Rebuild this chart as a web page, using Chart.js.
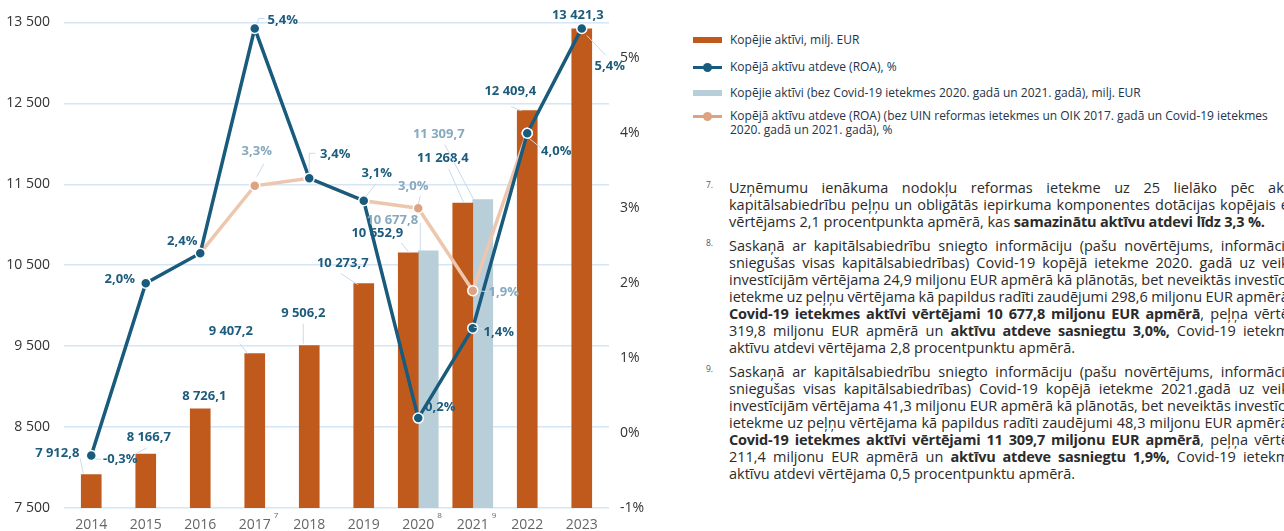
<!DOCTYPE html>
<html lang="lv">
<head>
<meta charset="utf-8">
<script src="https://cdn.jsdelivr.net/npm/chart.js@4.4.1/dist/chart.umd.min.js"></script>
<style>
  body { margin: 0; width: 1284px; height: 531px; overflow: hidden; background: #fff; position: relative; font-family: "Open Sans", sans-serif; }
  #chartBox { position: absolute; left: 0; top: 0; width: 660px; height: 531px; }
  .leg { position: absolute; left: 693px; white-space: nowrap; font-size: 12px; color: #22344a; line-height: 14px; }
  .leg .mk { position: absolute; left: 0; width: 29px; }
  .leg .tx { position: absolute; left: 37px; top: 0; }
  .dot { position: absolute; left: 10px; width: 9px; height: 9px; border-radius: 50%; }
  .notes { position: absolute; left: 706px; font-size: 14.5px; color: #2b2b2b; line-height: 17px; }
  .notes .num { position: absolute; left: 0; top: -3px; font-size: 8.5px; color: #555; }
  .notes .ln { position: absolute; left: 23px; white-space: nowrap; }
  .notes b { font-weight: 700; letter-spacing: -0.2px; }
</style>
</head>
<body>
<div id="chartBox"><canvas id="assetsChart"></canvas></div>

<div class="leg" style="top:33px">
  <div class="mk" style="top:4px;height:6px;background:#c05a1c"></div>
  <div class="tx">Kopējie aktīvi, milj. EUR</div>
</div>
<div class="leg" style="top:60px">
  <div class="mk" style="top:6px;height:3px;background:#185b7c"></div>
  <div class="dot" style="top:3px;background:#185b7c"></div>
  <div class="tx">Kopējā aktīvu atdeve (ROA), %</div>
</div>
<div class="leg" style="top:86px">
  <div class="mk" style="top:4px;height:6px;background:#b8ced9"></div>
  <div class="tx">Kopējie aktīvi (bez Covid-19 ietekmes 2020. gadā un 2021. gadā), milj. EUR</div>
</div>
<div class="leg" style="top:109px">
  <div class="mk" style="top:6px;height:3px;background:#dea282"></div>
  <div class="dot" style="top:3px;background:#dea282"></div>
  <div class="tx">Kopējā aktīvu atdeve (ROA) (bez UIN reformas ietekmes un OIK 2017. gadā un Covid-19 ietekmes<br>2020. gadā un 2021. gadā), %</div>
</div>

<div class="notes" style="top:179px">
  <span class="num">7.</span>
  <div class="ln j" style="top:0">Uzņēmumu ienākuma nodokļu reformas ietekme uz 25 lielāko pēc akt</div>
  <div class="ln j" style="top:17px">kapitālsabiedrību peļņu un obligātās iepirkuma komponentes dotācijas kopējais e</div>
  <div class="ln" style="top:34px">vērtējams 2,1 procentpunkta apmērā, kas <b>samazinātu aktīvu atdevi līdz 3,3 %.</b></div>
</div>
<div class="notes" style="top:237px">
  <span class="num">8.</span>
  <div class="ln j" style="top:0">Saskaņā ar kapitālsabiedrību sniegto informāciju (pašu novērtējums, informācij</div>
  <div class="ln j" style="top:17px">sniegušas visas kapitālsabiedrības) Covid-19 kopējā ietekme 2020. gadā uz veik</div>
  <div class="ln j" style="top:34px">investīcijām vērtējama 24,9 miljonu EUR apmērā kā plānotās, bet neveiktās investīci</div>
  <div class="ln j" style="top:51px">ietekme uz peļņu vērtējama kā papildus radīti zaudējumi 298,6 miljonu EUR apmērā</div>
  <div class="ln j" style="top:68px"><b>Covid-19 ietekmes aktīvi vērtējami 10 677,8 miljonu EUR apmērā</b>, peļņa vērtē</div>
  <div class="ln j" style="top:85px">319,8 miljonu EUR apmērā un <b>aktīvu atdeve sasniegtu 3,0%,</b> Covid-19 ietekm</div>
  <div class="ln" style="top:102px">aktīvu atdevi vērtējama 2,8 procentpunktu apmērā.</div>
</div>
<div class="notes" style="top:363px">
  <span class="num">9.</span>
  <div class="ln j" style="top:0">Saskaņā ar kapitālsabiedrību sniegto informāciju (pašu novērtējums, informācij</div>
  <div class="ln j" style="top:17px">sniegušas visas kapitālsabiedrības) Covid-19 kopējā ietekme 2021.gadā uz veik</div>
  <div class="ln j" style="top:34px">investīcijām vērtējama 41,3 miljonu EUR apmērā kā plānotās, bet neveiktās investīci</div>
  <div class="ln j" style="top:51px">ietekme uz peļņu vērtējama kā papildus radīti zaudējumi 48,3 miljonu EUR apmērā</div>
  <div class="ln j" style="top:68px"><b>Covid-19 ietekmes aktīvi vērtējami 11 309,7 miljonu EUR apmērā</b>, peļņa vērtē</div>
  <div class="ln j" style="top:85px">211,4 miljonu EUR apmērā un <b>aktīvu atdeve sasniegtu 1,9%,</b> Covid-19 ietekm</div>
  <div class="ln" style="top:102px">aktīvu atdevi vērtējama 0,5 procentpunktu apmērā.</div>
</div>

<script>
// Data
const years = ['2014', '2015', '2016', '2017', '2018', '2019', '2020', '2021', '2022', '2023'];
const yearNotes = ['', '', '', '7', '', '', '8', '9', '', ''];
const totalAssets = [7912.8, 8166.7, 8726.1, 9407.2, 9506.2, 10273.7, 10652.9, 11268.4, 12409.4, 13421.3];
const assetsExCovid = [null, null, null, null, null, null, 10677.8, 11309.7, null, null];
const roa = [-0.3, 2.0, 2.4, 5.4, 3.4, 3.1, 0.2, 1.4, 4.0, 5.4];
const roaAdjusted = [null, null, 2.4, 3.3, 3.4, 3.1, 3.0, 1.9, 4.0, null];
const assetTicks = [7500, 8500, 9500, 10500, 11500, 12500, 13500];
const roaTicks = [-1, 0, 1, 2, 3, 4, 5];

const DARK = '#1d5c7d';
const LIGHT = '#86a9bf';

const fmtNum = v => {
  const [a, b] = v.toFixed(1).split('.');
  return a.replace(/\B(?=(\d{3})+(?!\d))/g, ' ') + ',' + b;
};
const fmtPct = v => v.toFixed(1).replace('.', ',') + '%';

// where each value label sits, relative to its bar top / point (dataset, index)
const placements = [
  // total assets bars (dataset 2)
  { ds: 2, i: 0, dx: -34, dy: -21, leader: [[-11, -16], [-8, -1]] },
  { ds: 2, i: 1, dx: 3, dy: -17, leader: [[1, -6], [-9, -1]] },
  { ds: 2, i: 2, dx: 4, dy: -12 },
  { ds: 2, i: 3, dx: -24, dy: -22, leader: [[-15, -10], [-7, 0]] },
  { ds: 2, i: 4, dx: -6, dy: -32, leader: [[-6, -22], [-6, -2]] },
  { ds: 2, i: 5, dx: -21, dy: -20, leader: [[-23, -10], [-6, 1]] },
  { ds: 2, i: 6, dx: -31, dy: -20, leader: [[-7, -10], [1, 0]] },
  { ds: 2, i: 7, dx: -20, dy: -45, leader: [[-14, -34], [1, 0]] },
  { ds: 2, i: 8, dx: -17, dy: -19, leader: [[-16, -4], [-6, 0]] },
  { ds: 2, i: 9, dx: -4, dy: -13 },
  // assets without covid (dataset 3)
  { ds: 3, i: 6, dx: -36, dy: -31, leader: [[-8, -28], [-8, 0]], light: true },
  { ds: 3, i: 7, dx: -44, dy: -65, leader: [[-38, -55], [-9, 0]], light: true },
  // ROA (dataset 0)
  { ds: 0, i: 0, dx: 29, dy: 4, leader: [[3, 3], [10, 4]] },
  { ds: 0, i: 1, dx: -26, dy: -4 },
  { ds: 0, i: 2, dx: -18, dy: -12 },
  { ds: 0, i: 3, dx: 28, dy: -8, leader: [[2, -4], [4, -10], [10, -10]] },
  { ds: 0, i: 4, dx: 26, dy: -24, leader: [[0, -5], [0, -25], [6, -25]] },
  { ds: 0, i: 5, dx: 13, dy: -27, leader: [[2, -4], [12, -17]] },
  { ds: 0, i: 6, dx: 22, dy: -11 },
  { ds: 0, i: 7, dx: 26, dy: 4, leader: [[1, -1], [11, 1]] },
  { ds: 0, i: 8, dx: 29, dy: 18, leader: [[2, 5], [14, 15]] },
  { ds: 0, i: 9, dx: 28, dy: 38, leader: [[5, 7], [24, 27]] },
  // adjusted ROA (dataset 1)
  { ds: 1, i: 3, dx: 2, dy: -34, leader: [[2, -9], [9, -22]], light: true },
  { ds: 1, i: 6, dx: -5, dy: -22, leader: [[0, -4], [2, -12]], light: true },
  { ds: 1, i: 7, dx: 31, dy: 2, leader: [[5, 0], [14, 1]], light: true }
];

const valueLabels = {
  id: 'valueLabels',
  afterDatasetsDraw(chart) {
    const ctx = chart.ctx;
    placements.forEach(p => {
      const ds = chart.data.datasets[p.ds];
      const el = chart.getDatasetMeta(p.ds).data[p.i];
      const v = ds.data[p.i];
      if (!el || v == null) return;
      const ax = el.x, ay = el.y;
      ctx.save();
      if (p.leader) {
        ctx.strokeStyle = '#c6dbeb';
        ctx.lineWidth = 1;
        ctx.beginPath();
        p.leader.forEach(([x, y], k) => k ? ctx.lineTo(ax + x, ay + y) : ctx.moveTo(ax + x, ay + y));
        ctx.stroke();
      }
      ctx.font = 'bold 13px "Open Sans"';
      ctx.fillStyle = p.light ? LIGHT : DARK;
      ctx.textAlign = 'center';
      ctx.textBaseline = 'middle';
      const txt = ds.yAxisID === 'y1' ? fmtPct(v) : fmtNum(v);
      ctx.fillText(txt, ax + p.dx, ay + p.dy);
      ctx.restore();
    });
  },
  afterDraw(chart) {
    // footnote markers next to year labels
    const ctx = chart.ctx;
    const xs = chart.scales.x;
    ctx.save();
    ctx.font = '8px "Open Sans"';
    ctx.fillStyle = '#666';
    ctx.textAlign = 'left';
    ctx.textBaseline = 'middle';
    yearNotes.forEach((n, i) => {
      if (n) ctx.fillText(n, xs.getPixelForValue(i) + 19, 516);
    });
    ctx.restore();
  }
};

const ctx = document.getElementById('assetsChart').getContext('2d');
const assetsChart = new Chart(ctx, {
  data: {
    labels: years,
    datasets: [
      {
        type: 'line',
        label: 'Kopējā aktīvu atdeve (ROA), %',
        data: roa,
        yAxisID: 'y1',
        borderColor: '#185b7c',
        borderWidth: 3.5,
        pointRadius: 5,
        pointBackgroundColor: '#185b7c',
        pointBorderColor: '#fff',
        pointBorderWidth: 1.5,
        tension: 0,
        order: 1
      },
      {
        type: 'line',
        label: 'Kopējā aktīvu atdeve (ROA) (bez UIN reformas ietekmes un OIK 2017. gadā un Covid-19 ietekmes 2020. gadā un 2021. gadā), %',
        data: roaAdjusted,
        yAxisID: 'y1',
        borderColor: '#ecc6ad',
        borderWidth: 3.5,
        pointRadius: 5,
        pointBackgroundColor: '#dea282',
        pointBorderColor: '#fff',
        pointBorderWidth: 1.5,
        tension: 0,
        order: 2
      },
      {
        type: 'bar',
        label: 'Kopējie aktīvi, milj. EUR',
        data: totalAssets,
        yAxisID: 'y',
        backgroundColor: '#c05a1c',
        barThickness: 20,
        skipNull: true,
        order: 3
      },
      {
        type: 'bar',
        label: 'Kopējie aktīvi (bez Covid-19 ietekmes 2020. gadā un 2021. gadā), milj. EUR',
        data: assetsExCovid,
        yAxisID: 'y',
        backgroundColor: '#b8ced9',
        barThickness: 20,
        skipNull: true,
        order: 3
      }
    ]
  },
  options: {
    responsive: true,
    maintainAspectRatio: false,
    animation: false,
    layout: { padding: { top: 11, bottom: 0, left: 0, right: 0 } },
    plugins: {
      legend: { display: false },
      tooltip: { enabled: false }
    },
    scales: {
      x: {
        grid: { display: false },
        border: { display: false },
        ticks: { color: '#666', font: { family: 'Open Sans', size: 14 }, padding: 1 },
        afterFit: s => { s.height = 23; }
      },
      y: {
        position: 'left',
        min: 7500,
        max: 13500,
        afterBuildTicks: s => { s.ticks = assetTicks.map(v => ({ value: v })); },
        grid: { color: '#d6e6f4', lineWidth: 1.5, drawTicks: false },
        border: { display: false },
        ticks: {
          color: '#333',
          padding: 14,
          font: { family: 'Open Sans', size: 14 },
          callback: v => String(v).replace(/\B(?=(\d{3})+(?!\d))/g, ' ')
        },
        afterFit: s => { s.width = 64; }
      },
      y1: {
        position: 'right',
        min: -1,
        max: 5.48,
        afterBuildTicks: s => { s.ticks = roaTicks.map(v => ({ value: v })); },
        grid: { display: false, drawTicks: false },
        border: { display: false },
        ticks: {
          color: '#333',
          padding: 11,
          font: { family: 'Open Sans', size: 14 },
          callback: v => v + '%'
        },
        afterFit: s => { s.width = 51; }
      }
    }
  },
  plugins: [valueLabels]
});

// stretch the justified footnote lines so they run to the right edge like the source
document.querySelectorAll('.notes .ln.j').forEach(line => {
  const target = 560;
  const natural = line.scrollWidth;
  const spaces = (line.textContent.match(/ /g) || []).length;
  if (spaces) line.style.wordSpacing = ((target - natural) / spaces) + 'px';
});
</script>
</body>
</html>
